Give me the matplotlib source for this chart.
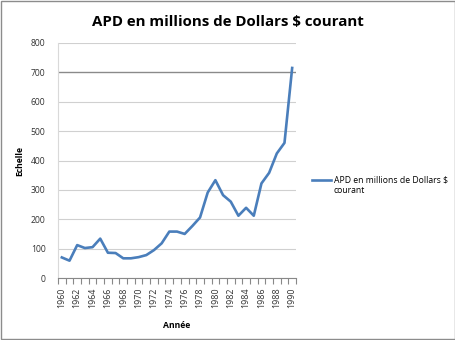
import matplotlib
matplotlib.use('Agg')
import matplotlib.pyplot as plt
from matplotlib.patches import Rectangle

# APD en millions de Dollars $ courant, 1960-1990
annees = list(range(1960, 1991))
apd = [70, 59, 112, 102, 105, 134, 86, 85, 67, 67, 71, 78, 95, 118, 158, 158, 150,
       177, 206, 291, 333, 282, 260, 212, 239, 212, 322, 358, 424, 460, 715]
etiquettes_x = [str(a) for a in range(1960, 1991, 2)]
ticks_y = list(range(0, 801, 100))

titre = "APD en millions de Dollars $ courant"
serie = "APD en millions de Dollars $\ncourant"

plt.rcParams['font.family'] = ['Open Sans', 'DejaVu Sans']

fig = plt.figure(figsize=(4.56, 3.40), dpi=100)
ax = fig.add_axes([58 / 456, 1 - 278 / 340, 238 / 456, 235 / 340])

ax.plot(annees, apd, color='#4a7ebb', linewidth=1.9, label=serie)

ax.set_xlim(annees[0] - 0.5, annees[-1] + 0.5)
ax.set_ylim(0, 800)
ax.set_yticks(ticks_y)
ax.set_yticklabels([str(v) for v in ticks_y], fontsize=6.2, color='#333333')
ax.set_xticks(range(1960, 1991, 2))
ax.set_xticklabels(etiquettes_x, rotation=90, fontsize=6.4, color='#333333')
ax.set_xticks([a - 0.5 for a in annees] + [annees[-1] + 0.5], minor=True)
ax.tick_params(axis='x', which='major', length=0, pad=7)
ax.tick_params(axis='x', which='minor', length=4, color='#888888', width=0.8)
ax.tick_params(axis='y', length=0, pad=9)

ax.yaxis.grid(True, color='#d0d0d0', linewidth=0.8)
for v, gl in zip(ticks_y, ax.get_ygridlines()):
    if v == 700:
        gl.set_color('#8a8a8a')
        gl.set_linewidth(1.0)
ax.set_axisbelow(True)

for side in ['top', 'right']:
    ax.spines[side].set_visible(False)
ax.spines['left'].set_color('#d9d9d9')
ax.spines['left'].set_linewidth(0.8)
ax.spines['bottom'].set_color('#888888')
ax.spines['bottom'].set_linewidth(0.8)

ax.set_xlabel("Année", fontsize=6.2, fontweight='bold', labelpad=9)
ax.set_ylabel("Echelle", fontsize=6.2, fontweight='bold', labelpad=5)

fig.text(0.5, 1 - 22 / 340, titre, ha='center', va='center', fontsize=10.8,
         fontweight='bold')

leg = ax.legend(loc='upper left', bbox_to_anchor=(308 / 456, 1 - 166 / 340),
                bbox_transform=fig.transFigure, frameon=False, fontsize=6.2,
                handlelength=2.2, handletextpad=0.3, borderpad=0)
# poignée alignée sur la première ligne du libellé
leg.get_texts()[0].set_y(-5.5)

fig.patches.append(Rectangle((0.002, 0.003), 0.995, 0.994, transform=fig.transFigure,
                             fill=False, edgecolor='#8c8c8c', linewidth=1.0))

fig.savefig('out.png', dpi=100)
